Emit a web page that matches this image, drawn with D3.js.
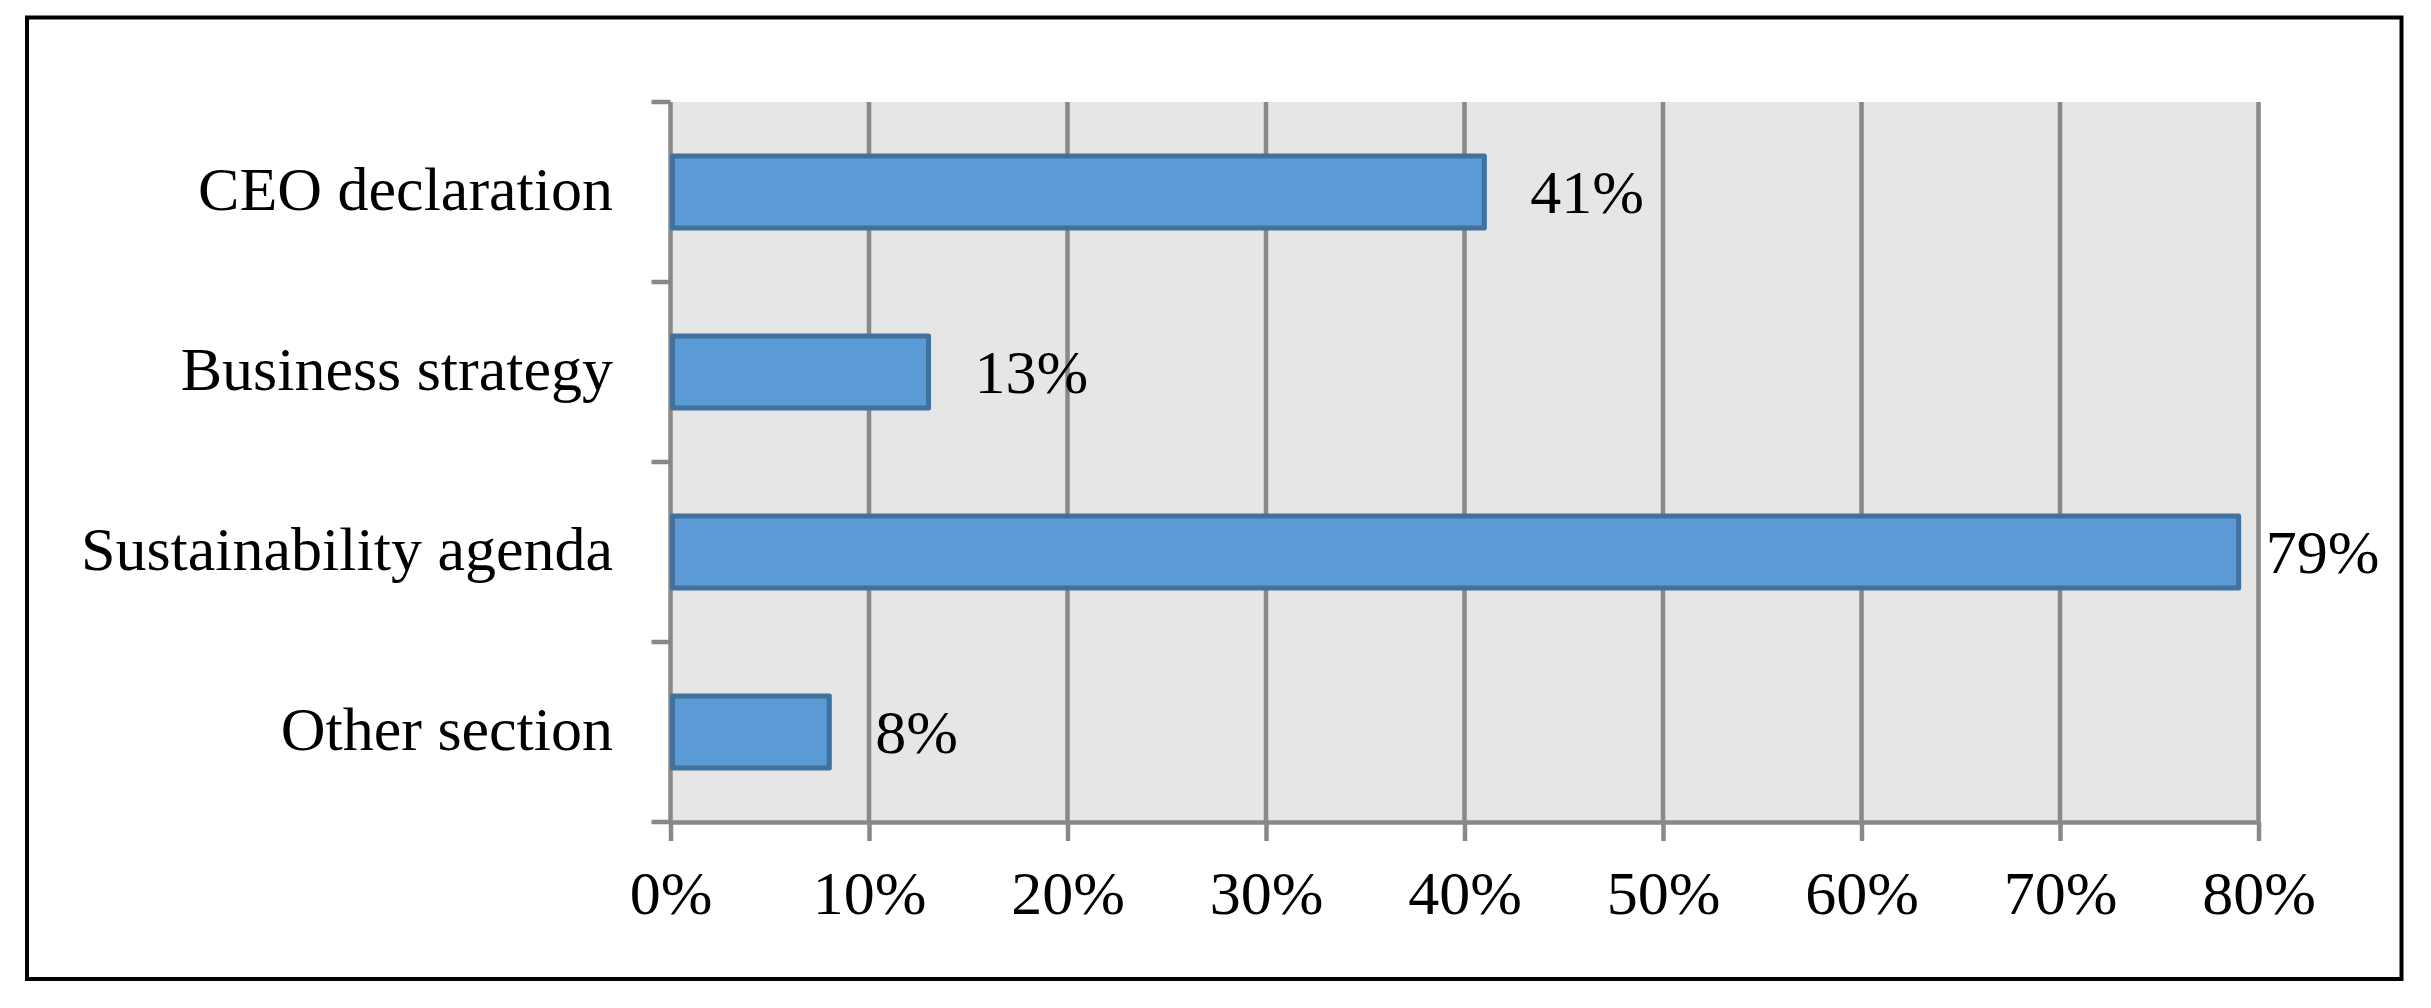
<!DOCTYPE html>
<html>
<head>
<meta charset="utf-8">
<script src="https://cdn.jsdelivr.net/npm/d3@7"></script>
<style>
  html, body { margin: 0; padding: 0; background: #ffffff; }
  svg { display: block; }
  text { font-family: "Liberation Serif", "Times New Roman", serif; fill: #000; }
</style>
</head>
<body>
<svg id="chart" width="2431" height="1008"></svg>
<script>
// ---- data ----
const categories = ["CEO declaration", "Business strategy", "Sustainability agenda", "Other section"];
const values = [41, 13, 79, 8];
const valueLabels = ["41%", "13%", "79%", "8%"];
const tickValues = [0, 10, 20, 30, 40, 50, 60, 70, 80];
const tickLabels = ["0%", "10%", "20%", "30%", "40%", "50%", "60%", "70%", "80%"];

// ---- layout ----
const W = 2431, H = 1008;
const frame = { x0: 27, y0: 17.5, x1: 2401.5, y1: 979 };
const plot = { left: 670.5, right: 2258.5, top: 102, bottom: 822 };
const fontSize = 62;
const grey = "#898989";

const svg = d3.select("#chart");

// outer frame
svg.append("rect")
  .attr("x", frame.x0).attr("y", frame.y0)
  .attr("width", frame.x1 - frame.x0).attr("height", frame.y1 - frame.y0)
  .attr("fill", "#fff").attr("stroke", "#000").attr("stroke-width", 4);

const x = d3.scaleLinear().domain([0, 80]).range([plot.left, plot.right]);
const y = d3.scaleBand().domain(categories).range([plot.top, plot.bottom])
  .paddingInner(0.6).paddingOuter(0.3);

// plot background
svg.append("rect")
  .attr("x", plot.left).attr("y", plot.top)
  .attr("width", plot.right - plot.left).attr("height", plot.bottom - plot.top)
  .attr("fill", "#e6e6e6");

// vertical gridlines
svg.append("g").selectAll("line").data(tickValues.slice(1)).join("line")
  .attr("x1", d => x(d)).attr("x2", d => x(d))
  .attr("y1", plot.top).attr("y2", plot.bottom)
  .attr("stroke", grey).attr("stroke-width", 4.5);

// x axis
const xAxis = d3.axisBottom(x)
  .tickValues(tickValues)
  .tickFormat((d, i) => tickLabels[i])
  .tickSizeInner(19).tickSizeOuter(0).tickPadding(0);
const gx = svg.append("g").attr("transform", `translate(0,${plot.bottom})`).call(xAxis);
gx.select(".domain").attr("stroke", grey).attr("stroke-width", 4.5);
gx.selectAll(".tick line").attr("stroke", grey).attr("stroke-width", 4.5);
gx.selectAll(".tick text")
  .attr("y", 92).attr("dy", 0)
  .style("font-family", '"Liberation Serif", "Times New Roman", serif')
  .style("font-size", fontSize + "px").attr("fill", "#000");

// y axis line + ticks at band boundaries
const step = y.step();
const boundaries = [plot.top].concat(categories.map(c => y(c) + y.bandwidth() + step * y.paddingInner() / 2));
svg.append("line")
  .attr("x1", plot.left).attr("x2", plot.left)
  .attr("y1", plot.top).attr("y2", plot.bottom)
  .attr("stroke", grey).attr("stroke-width", 4.5);
svg.append("g").selectAll("line").data(boundaries).join("line")
  .attr("x1", plot.left - 19).attr("x2", plot.left)
  .attr("y1", d => d).attr("y2", d => d)
  .attr("stroke", grey).attr("stroke-width", 4.5);

// category labels
svg.append("g").selectAll("text").data(categories).join("text")
  .attr("x", plot.left - 57.5)
  .attr("y", d => y(d) + y.bandwidth() / 2 + 18)
  .attr("text-anchor", "end")
  .style("font-size", fontSize + "px")
  .text(d => d);

// bars
svg.append("g").selectAll("rect").data(categories).join("rect")
  .attr("x", plot.left + 2)
  .attr("y", d => y(d))
  .attr("width", (d, i) => x(values[i]) - plot.left - 2)
  .attr("height", y.bandwidth())
  .attr("fill", "#5b9bd5")
  .attr("stroke", "#41719c").attr("stroke-width", 5)
  .attr("stroke-linejoin", "round");

// value labels
const lbl = svg.append("g").selectAll("text").data(categories).join("text")
  .attr("y", d => y(d) + y.bandwidth() / 2 + 20.5)
  .style("font-size", fontSize + "px")
  .text((d, i) => valueLabels[i]);
lbl.each(function(d, i) {
  const w = this.getComputedTextLength();
  const pos = Math.min(x(values[i]) + 46, frame.x1 - 22 - w);
  d3.select(this).attr("x", pos);
});
</script>
</body>
</html>
